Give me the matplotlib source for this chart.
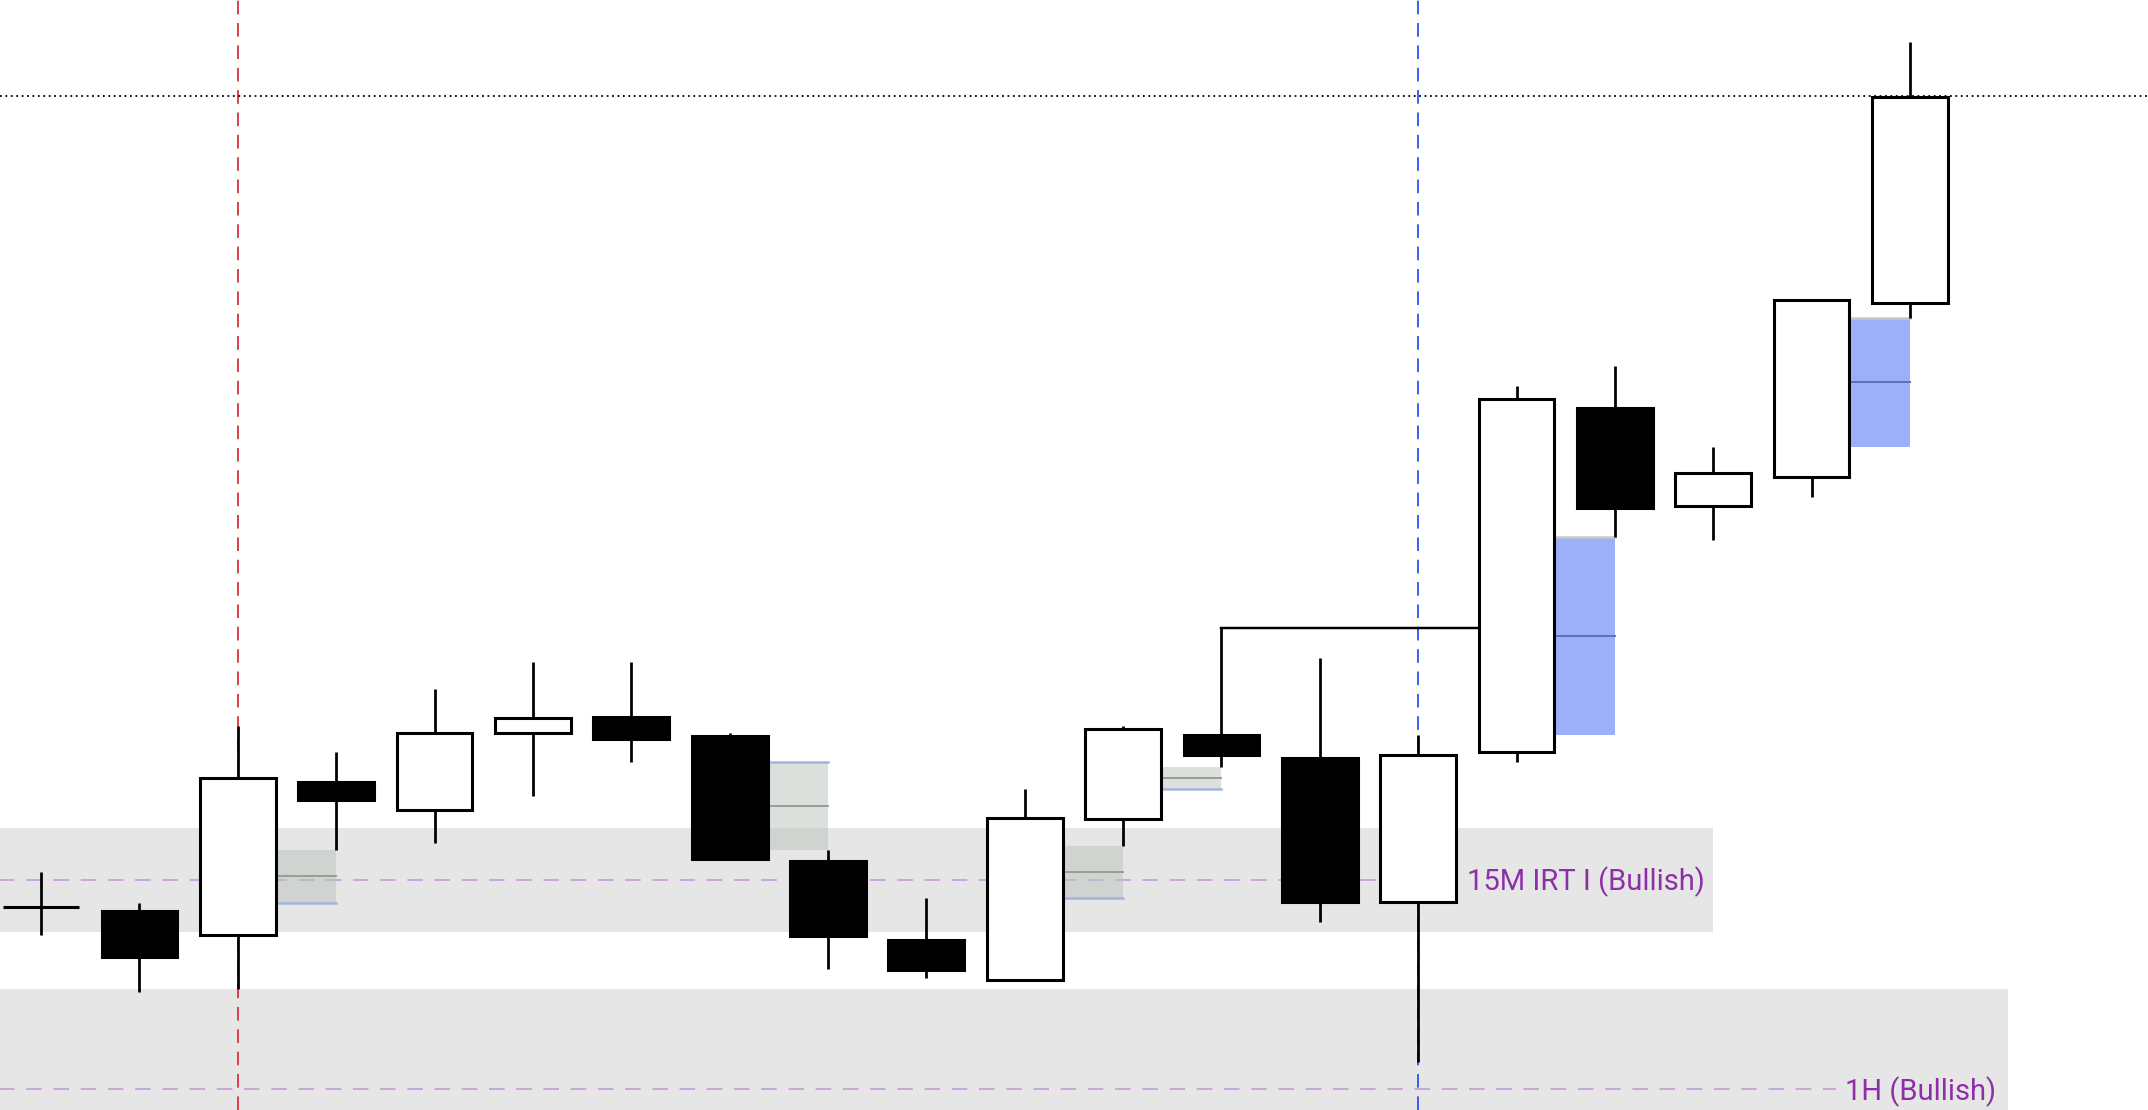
"""Candlestick snapshot with FVG boxes and two higher-timeframe zones."""
import matplotlib
matplotlib.use("Agg")
import matplotlib.pyplot as plt
from matplotlib.patches import Rectangle

# OHLC of the 20 candles (arbitrary price units)
OPEN  = [14.8, 14.5, 12.8, 23.9, 21.9, 27.5, 28.7, 27.3, 18.2, 12.4,
         9.5, 21.2, 27.4, 25.7, 15.2, 26.1, 51.2, 44.1, 46.2, 58.9]
HIGH  = [17.4, 15.1, 28.0, 26.1, 30.7, 32.7, 32.7, 27.5, 19.0, 15.5,
         23.4, 28.0, 35.2, 33.0, 27.4, 52.8, 54.3, 48.4, 59.1, 77.9]
LOW   = [12.8, 8.6, 8.8, 19.0, 19.5, 22.9, 25.4, 18.3, 10.3, 9.6,
         9.4, 19.3, 25.0, 13.7, 3.5, 25.4, 41.8, 41.6, 44.7, 57.8]
CLOSE = [14.8, 11.2, 24.2, 22.6, 27.5, 28.6, 27.1, 18.3, 12.7, 10.2,
         21.3, 27.8, 25.9, 15.2, 25.9, 51.9, 43.9, 46.5, 59.1, 73.9]

# fair value gaps: middle candle index
FVG_GRAY = [2, 7, 10, 11]
FVG_BLUE = [15, 18]

# zones: (top, bottom, right end index, dashed level, label, label x, dash end, align)
ZONES = [
    (20.6, 13.0, 17.0, 16.8, "15M IRT I (Bullish)", 14.5, 14.4, "left"),
    (8.8, -6.0, 20.0, 1.5, "1H (Bullish)", 19.88, 18.25, "right"),
]
SWING_IDX = 12          # old high taken out by candle 15
BREAK_IDX = 15
TOP_LEVEL = 74.0        # dotted line
RED_X, BLUE_X = 2, 14   # session markers

W = 0.77
LW = 2.2

fig = plt.figure(figsize=(21.48, 11.10), dpi=100)
ax = fig.add_axes([0, 0, 1, 1])
ax.set_xlim(-0.418, 21.42)
ax.set_ylim(0, 81.0)
ax.axis("off")

# zones
for top, bot, xr, lvl, lab, lx, dx, ha in ZONES:
    ax.add_patch(Rectangle((-1, bot), xr + 1, top - bot, fc="#e6e6e6", ec="none", zorder=0))
    ax.plot([-1, dx], [lvl, lvl], color="#c9a6d8", lw=1.4, ls=(0, (8, 6)), zorder=1)
    ax.text(lx, lvl - 0.15, lab, ha=ha, va="center", color="#8e2fa8", fontsize=21,
            family=["Roboto", "DejaVu Sans"], zorder=5)

ax.axvline(RED_X, color="#d9404a", lw=1.4, ls=(0, (7, 4.5)), zorder=1)
ax.axvline(BLUE_X, color="#3a5ef0", lw=1.4, ls=(0, (7, 4.5)), zorder=1)
ax.axhline(TOP_LEVEL, color="black", lw=1.3, ls=(0, (1, 2)), zorder=1)

# FVG boxes
for k in FVG_GRAY:
    prev_lvl = HIGH[k - 1] if CLOSE[k] > OPEN[k] else LOW[k - 1]
    next_lvl = LOW[k + 1] if CLOSE[k] > OPEN[k] else HIGH[k + 1]
    lo, hi = min(prev_lvl, next_lvl), max(prev_lvl, next_lvl)
    x0 = k + W / 2
    ax.add_patch(Rectangle((x0, lo), k + 1 - x0, hi - lo, fc=(188/255, 197/255, 190/255),
                           alpha=0.52, ec="none", zorder=2))
    ax.plot([x0, k + 1], [(lo + hi) / 2] * 2, color="#999c99", lw=1.4, zorder=2.1)
    ax.plot([x0, k + 1], [prev_lvl] * 2, color="#a4b4dc", lw=1.8, zorder=2.1)

for k in FVG_BLUE:
    lo, hi = HIGH[k - 1], LOW[k + 1]
    x0 = k + W / 2
    ax.add_patch(Rectangle((x0, lo), k + 1 - x0, hi - lo, fc="#9bb0f8", ec="none", zorder=2))
    ax.plot([x0, k + 1], [(lo + hi) / 2] * 2, color="#5b70bb", lw=1.4, zorder=2.1)
    ax.plot([x0, k + 1], [hi, hi], color="#c8c8c8", lw=1.8, zorder=2.1)

# swing high line
ax.plot([SWING_IDX, BREAK_IDX - W / 2], [HIGH[SWING_IDX]] * 2, color="black", lw=LW * 0.8, zorder=3)

# candles
for i, (o, h, l, c) in enumerate(zip(OPEN, HIGH, LOW, CLOSE)):
    ax.plot([i, i], [l, h], color="black", lw=LW * 0.9, zorder=3, solid_capstyle="butt")
    bull = c >= o
    ax.add_patch(Rectangle((i - W / 2, min(o, c)), W, abs(c - o),
                           fc="white" if bull else "black", ec="black", lw=LW,
                           zorder=4, joinstyle="miter"))

fig.savefig("out.png", dpi=100)
